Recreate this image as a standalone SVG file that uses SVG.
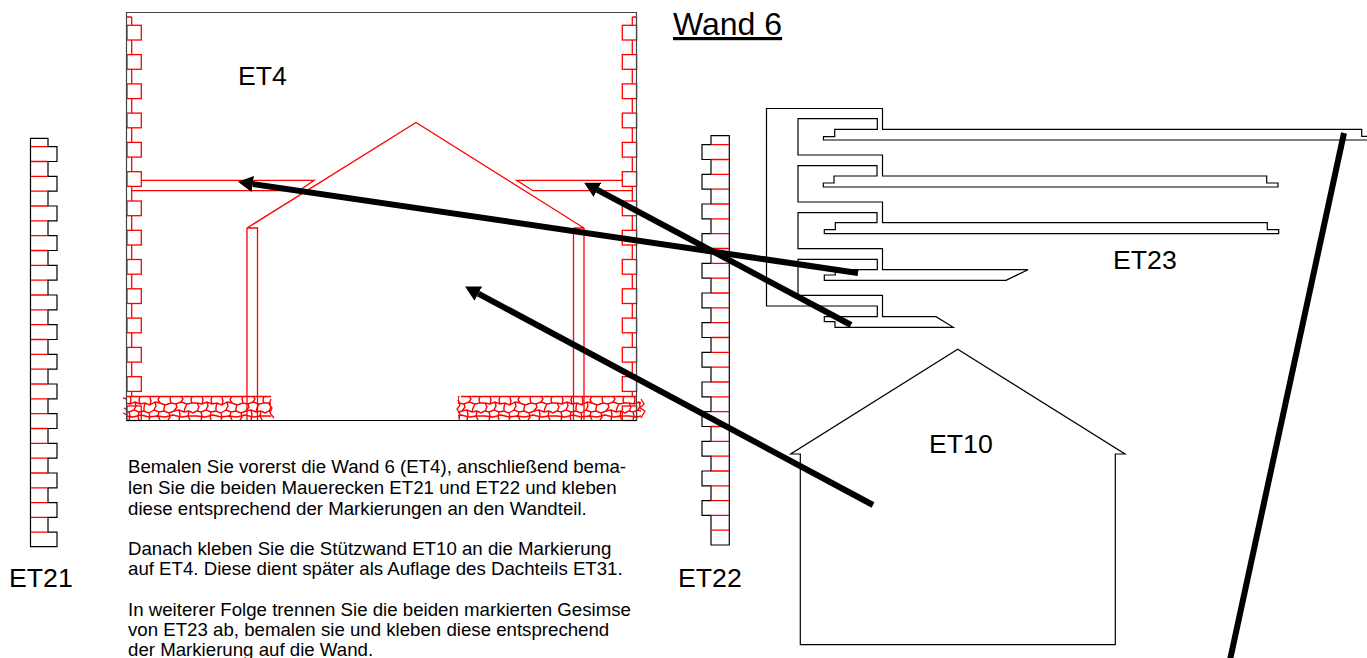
<svg xmlns="http://www.w3.org/2000/svg" width="1367" height="658" viewBox="0 0 1367 658">
<style>
text{font-family:"Liberation Sans",Arial,sans-serif;fill:#000}
.lbl{font-size:26.67px}
.body{font-size:18.67px}
.k{fill:none;stroke:#000;stroke-width:1.2;stroke-linejoin:miter}
.r{fill:none;stroke:#f00;stroke-width:1.3}
.rw{fill:#fff;stroke:#f00;stroke-width:1.3}
.bold{fill:none;stroke:#000;stroke-width:6}
</style>
<defs>
<rect id="bl" x="127" y="0" width="14.3" height="14.7" class="rw"/>
<rect id="br" x="622.3" y="0" width="14.3" height="14.7" class="rw"/>
<marker id="head" markerUnits="userSpaceOnUse" markerWidth="16" markerHeight="18" refX="0" refY="8" orient="auto" viewBox="0 0 16 16"><path d="M0 0L15 8L0 16Z" fill="#000"/></marker>
<pattern id="cobble" patternUnits="userSpaceOnUse" x="125" y="396" width="72" height="24">
<path fill="none" stroke="#f00" stroke-width="1.4" d="M0 7L5 8L10 6L15 8L20 7L25 9L30 6L35 7L40 9L46 7L51 8L56 6L62 8L67 7L72 7M0 15L4 16L9 14L14 16L19 15L24 17L29 14L34 16L39 15L44 17L49 15L54 14L59 16L64 15L68 17L72 15M0 20L8 21L16 19L24 21L32 20L40 21L48 19L56 21L64 20L72 20M5 0L6 4L5 8M15 0L14 4L15 8M25 1L26 5L25 9M35 0L33 4L35 7M46 0L45 3L46 7M56 0L58 3L56 6M67 0L66 4L67 7M10 6L11 10L9 14M20 7L19 11L19 15M30 6L31 10L29 14M40 9L39 12L39 15M51 8L52 11L49 15M62 8L60 12L59 16M0 7L2 11L0 15M72 7L74 11L72 15M4 16L5 20L4 24M14 16L13 20L14 24M24 17L25 21L24 24M34 16L33 20L35 24M44 17L45 21L43 24M54 14L55 19L54 24M64 15L63 20L65 24"/>
</pattern>
</defs>

<g id="ET4">
<path class="r" d="M131.7 17V396M127 17H131.7M632.3 17V396M632.3 17H636.5"/>
<g id="ET4-bricks-left">
<use href="#bl" y="25.3"/><use href="#bl" y="54.6"/><use href="#bl" y="83.9"/><use href="#bl" y="113.1"/><use href="#bl" y="142.4"/><use href="#bl" y="171.7"/><use href="#bl" y="201"/><use href="#bl" y="230.3"/><use href="#bl" y="259.5"/><use href="#bl" y="288.8"/><use href="#bl" y="318.1"/><use href="#bl" y="347.4"/><use href="#bl" y="376.7"/>
</g>
<g id="ET4-bricks-right">
<use href="#br" y="25.3"/><use href="#br" y="54.6"/><use href="#br" y="83.9"/><use href="#br" y="113.1"/><use href="#br" y="142.4"/><use href="#br" y="171.7"/><use href="#br" y="201"/><use href="#br" y="230.3"/><use href="#br" y="259.5"/><use href="#br" y="288.8"/><use href="#br" y="318.1"/><use href="#br" y="347.4"/><use href="#br" y="376.7"/>
</g>
<path class="r" d="M141.3 180.4H314L299 190.7H131.7"/>
<path class="r" d="M622.3 180.4H516.7L533 190.7H632.3"/>
<path class="r" d="M247 420V228L416 122.5L584 228V420M247 228H257.5V420M573.5 228H584M573.5 228V420"/>
<rect x="126" y="396" width="145" height="24" fill="url(#cobble)"/>
<rect x="458" y="396" width="183" height="24" fill="url(#cobble)"/>
<path class="r" d="M123 398L127 399M124 408L127 410M123 413L127 415M271 399L269 404L272 408L270 413L274 418M458 400L460 405L457 409L460 414L459 420M641 399L644 404L640 408L645 411L641 418"/>
<path class="r" d="M127 396.5H271M461 396.5H636"/>
<rect class="r" x="127" y="406" width="14.3" height="14.5"/>
<rect class="r" x="622.3" y="406" width="14.3" height="14.5"/>
<path class="k" style="stroke:#444" d="M126.5 420.5V12.5H636.5V420.5"/>
<path class="k" d="M126.5 420.5H636.5"/>
<text class="lbl" x="238" y="85">ET4</text>
</g>

<g id="ET21">
<path class="k" d="M30.5 138.3H48V146.7H57V161.5H48V176.4H57V191.2H48V206H57V220.9H48V235.7H57V250.5H48V265.3H57V280.2H48V295H57V309.9H48V324.7H57V339.5H48V354.3H57V369.2H48V384H57V398.8H48V413.6H57V428.5H48V443.3H57V458.2H48V473H57V487.8H48V502.6H57V517.4H48V532.1H57V546.7H30.5Z"/>
<path class="r" d="M31 146.7H48M31 161.5H48M31 176.4H48M31 191.2H48M31 206H48M31 220.9H48M31 235.7H48M31 250.5H48M31 265.3H48M31 280.2H48M31 295H48M31 309.9H48M31 324.7H48M31 339.5H48M31 354.3H48M31 369.2H48M31 384H48M31 398.8H48M31 413.6H48M31 428.5H48M31 443.3H48M31 458.2H48M31 473H48M31 487.8H48M31 502.6H48M31 517.4H48M31 532.1H48"/>
<text class="lbl" x="9" y="587">ET21</text>
</g>

<g id="ET22">
<path class="k" d="M711 135.7V144.7H702V159.5H711V174.4H702V189.2H711V204H702V218.9H711V233.7H702V248.5H711V263.3H702V278.2H711V293H702V307.9H711V322.7H702V337.5H711V352.3H702V367.2H711V382H702V396.8H711V411.6H702V426.5H711V441.3H702V456.2H711V471H702V485.8H711V500.6H702V515.4H711V545H729.3V135.7Z"/>
<path class="r" d="M711 144.7H729M711 159.5H729M711 174.4H729M711 189.2H729M711 204H729M711 218.9H729M711 233.7H729M711 248.5H729M711 263.3H729M711 278.2H729M711 293H729M711 307.9H729M711 322.7H729M711 337.5H729M711 352.3H729M711 367.2H729M711 382H729M711 396.8H729M711 411.6H729M711 426.5H729M711 441.3H729M711 456.2H729M711 471H729M711 485.8H729M711 500.6H729M711 515.4H729M711 530.2H729"/>
<text class="lbl" x="678" y="587">ET22</text>
</g>

<g id="ET23">
<path class="k" d="M766.5 108.5H882.5V129.3H1361.7V136.3H1368V140H823.5V136.7H834.7V129.3H877.3V118.7H798V155H882.5V176H1266.7V183H1278V187H823.3V183H834V176H877V165.7H798V202H882.5V222.7H1267.3V229.7H1278.7V233.7H824.3V229.7H835.3V222.7H877V212.7H798V248.7H882.5V269.7H1028L1006 280.3H824.3V275H835.3V269.7H877.3V259.3H798V295.3H882.5V316.7H936L953.3 327.3H835V321.7H824.3V316.7H877.3V306H766.5Z"/>
<text class="lbl" x="1113" y="269">ET23</text>
</g>

<g id="ET10">
<path class="k" d="M800.3 454H790.7L957.7 349.3L1125 454H1115.3V644.7H800.3Z"/>
<text class="lbl" x="929" y="453">ET10</text>
</g>

<g id="title">
<text x="673" y="35" font-size="32" text-decoration="underline">Wand 6</text>
</g>

<g id="instructions">
<text class="body" x="128" y="473">Bemalen Sie vorerst die Wand 6 (ET4), anschließend bema-</text>
<text class="body" x="128" y="494">len Sie die beiden Mauerecken ET21 und ET22 und kleben</text>
<text class="body" x="128" y="515">diese entsprechend der Markierungen an den Wandteil.</text>
<text class="body" x="128" y="555">Danach kleben Sie die Stützwand ET10 an die Markierung</text>
<text class="body" x="128" y="575">auf ET4. Diese dient später als Auflage des Dachteils ET31.</text>
<text class="body" x="128" y="616">In weiterer Folge trennen Sie die beiden markierten Gesimse</text>
<text class="body" x="128" y="636">von ET23 ab, bemalen sie und kleben diese entsprechend</text>
<text class="body" x="128" y="656">der Markierung auf die Wand.</text>
</g>

<g id="connectors">
<line class="bold" x1="858" y1="273" x2="252.8" y2="184" marker-end="url(#head)"/>
<line class="bold" x1="851" y1="325" x2="597.4" y2="189.9" marker-end="url(#head)"/>
<line class="bold" x1="873" y1="505" x2="478.3" y2="293.6" marker-end="url(#head)"/>
<line class="bold" x1="1344" y1="133" x2="1230" y2="660"/>
</g>
</svg>
